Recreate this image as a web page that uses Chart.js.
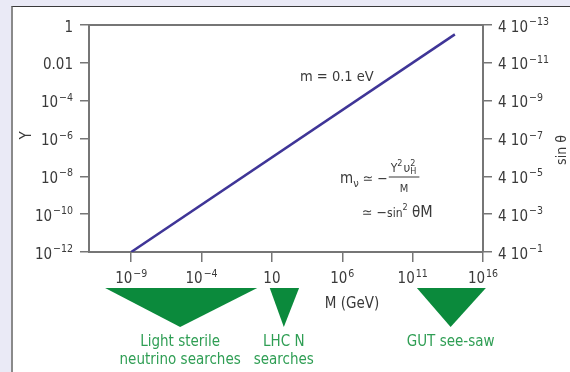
<!DOCTYPE html>
<html>
<head>
<meta charset="utf-8">
<script src="https://cdn.jsdelivr.net/npm/chart.js@4.4.0/dist/chart.umd.min.js"></script>
<style>
  html, body { margin: 0; padding: 0; background: #eaeaf6; }
  #panel { position: absolute; left: 11px; top: 6px; right: 0; bottom: 0; background: #fff;
           border-left: 2px solid #8a8a8a; border-top: 1px solid #3a3a3a; }
  #seesaw { position: absolute; left: 0; top: 0; }
</style>
</head>
<body>
<div id="panel"></div>
<canvas id="seesaw" width="570" height="372"></canvas>
<script>
// values
const lineMass = [1e-9, 1e14];          // M (GeV)
const lineYukawa = [1e-12, 0.32];       // Y along m = 0.1 eV
const massTicks = [1e-9, 1e-4, 10, 1e6, 1e11, 1e16];
const massTickLabels = ['10^−9', '10^−4', '10', '10^6', '10^11', '10^16'];
const yukawaTicks = [1, 1e-2, 1e-4, 1e-6, 1e-8, 1e-10, 1e-12];
const yukawaTickLabels = ['1', '0.01', '10^−4', '10^−6', '10^−8', '10^−10', '10^−12'];
const sinTicks = [4e-13, 4e-11, 4e-9, 4e-7, 4e-5, 4e-3, 4e-1];
const sinTickLabels = ['4 10^−13', '4 10^−11', '4 10^−9', '4 10^−7', '4 10^−5', '4 10^−3', '4 10^−1'];
const bandNames = [['Light sterile', 'neutrino searches'], ['LHC N', 'searches'], ['GUT see-saw']];
const bandLow = [1.4e-11, 7, 2e11];
const bandApex = [3e-6, 70, 5e13];
const bandHigh = [0.9, 850, 1.6e16];

const FONT = '"Liberation Sans Narrow", "DejaVu Sans Condensed", "Liberation Sans", sans-serif';
const TEXT = '#3a3a3a';
const AXIS = '#767676';
const GREEN = '#0b8a3c';
const GREEN_TEXT = '#2f9e54';

function setTicks(values) {
  return scale => { scale.ticks = values.map(v => ({ value: v })); };
}

// "10^−4" -> 10 with raised exponent
function drawPow(ctx, label, x, y, align) {
  const parts = label.split('^');
  ctx.font = '15px ' + FONT;
  const wb = ctx.measureText(parts[0]).width;
  let we = 0;
  if (parts[1]) { ctx.font = '10.5px ' + FONT; we = ctx.measureText(parts[1]).width + 1; }
  const w = wb + we;
  const x0 = align === 'right' ? x - w : align === 'center' ? x - w / 2 : x;
  ctx.textAlign = 'left';
  ctx.textBaseline = 'alphabetic';
  ctx.font = '15px ' + FONT;
  ctx.fillText(parts[0], x0, y);
  if (parts[1]) {
    ctx.font = '10.5px ' + FONT;
    ctx.fillText(parts[1], x0 + wb + 1, y - 6.5);
  }
}

// sequence of text runs: [text, size, dy, advance?]
function drawRuns(ctx, runs, x, y) {
  ctx.textAlign = 'left';
  ctx.textBaseline = 'alphabetic';
  let cx = x;
  runs.forEach(r => {
    ctx.font = r[1] + 'px ' + FONT;
    ctx.fillText(r[0], cx, y + r[2]);
    if (r[3] !== false) cx += ctx.measureText(r[0]).width;
  });
  return cx;
}

const decorPlugin = {
  id: 'decor',
  afterDraw(chart) {
    const ctx = chart.ctx;
    const a = chart.chartArea;
    const xs = chart.scales.x, ys = chart.scales.y, ys2 = chart.scales.y2;
    ctx.save();

    // top frame line
    ctx.strokeStyle = AXIS;
    ctx.lineWidth = 2;
    ctx.beginPath();
    ctx.moveTo(a.left - 1, a.top);
    ctx.lineTo(a.right + 1, a.top);
    ctx.stroke();

    ctx.fillStyle = TEXT;
    // tick labels
    yukawaTicks.forEach((v, i) => drawPow(ctx, yukawaTickLabels[i], a.left - 16, ys.getPixelForValue(v) + 6.5, 'right'));
    sinTicks.forEach((v, i) => drawPow(ctx, sinTickLabels[i], a.right + 15, ys2.getPixelForValue(v) + 6.5, 'left'));
    massTicks.forEach((v, i) => drawPow(ctx, massTickLabels[i], xs.getPixelForValue(v), a.bottom + 31, 'center'));

    // axis titles
    ctx.font = '15px ' + FONT;
    ctx.textAlign = 'center';
    ctx.textBaseline = 'middle';
    ctx.save();
    ctx.translate(27, (a.top + a.bottom) / 2 - 3);
    ctx.rotate(-Math.PI / 2);
    ctx.fillText('Y', 0, 0);
    ctx.restore();
    ctx.save();
    ctx.translate(562, 150);
    ctx.rotate(-Math.PI / 2);
    ctx.font = '14px ' + FONT;
    ctx.fillText('sin θ', 0, 0);
    ctx.restore();
    ctx.fillText('M (GeV)', 352, a.bottom + 52);

    // annotations
    ctx.textAlign = 'left';
    ctx.textBaseline = 'alphabetic';
    ctx.font = '14.5px ' + FONT;
    ctx.fillText('m = 0.1 eV', 300, 81);

    // m_nu ~ - Y^2 v_H^2 / M
    let cx = drawRuns(ctx, [['m', 15, 0], ['ν', 11, 3.5], [' ≃ −', 14, 0]], 340, 183);
    const barL = cx + 1;
    let nx = drawRuns(ctx, [['Y', 12, 0], ['2', 9, -6]], barL + 2, 172);
    nx = drawRuns(ctx, [['υ', 13, 0], ['2', 9, -6, false], ['H', 9, 2]], nx + 1, 172);
    const barR = nx + 3;
    ctx.fillRect(barL, 176.5, barR - barL, 1);
    ctx.font = '11px ' + FONT;
    ctx.textAlign = 'center';
    ctx.fillText('M', (barL + barR) / 2, 192);
    drawRuns(ctx, [['≃ −', 14, 0], ['sin', 12, 0], ['2', 9, -7], [' θ', 15, 0], ['M', 16, 0]], 362, 217);

    // mass ranges probed
    bandLow.forEach((lo, i) => {
      const x1 = xs.getPixelForValue(lo);
      const x2 = xs.getPixelForValue(bandHigh[i]);
      const xa = xs.getPixelForValue(bandApex[i]);
      ctx.fillStyle = GREEN;
      ctx.beginPath();
      ctx.moveTo(x1, a.bottom + 36);
      ctx.lineTo(x2, a.bottom + 36);
      ctx.lineTo(xa, a.bottom + 75);
      ctx.closePath();
      ctx.fill();
      ctx.fillStyle = GREEN_TEXT;
      ctx.font = '15px ' + FONT;
      ctx.textAlign = 'center';
      bandNames[i].forEach((t, k) => ctx.fillText(t, xa, a.bottom + 94 + k * 18));
    });
    ctx.restore();
  }
};

const axisGrid = { drawOnChartArea: false, drawTicks: true, tickLength: 9, color: AXIS, lineWidth: 1.5 };
const axisBorder = { display: true, color: AXIS, width: 2 };

new Chart(document.getElementById('seesaw'), {
  type: 'scatter',
  data: {
    datasets: [{
      label: 'm = 0.1 eV',
      data: lineMass.map((m, i) => ({ x: m, y: lineYukawa[i] })),
      showLine: true,
      borderColor: '#3f3597',
      borderWidth: 2.5,
      pointRadius: 0,
      yAxisID: 'y'
    }]
  },
  options: {
    responsive: false,
    animation: false,
    layout: { padding: { top: 25 } },
    plugins: { legend: { display: false }, tooltip: { enabled: false } },
    scales: {
      x: {
        type: 'logarithmic', position: 'bottom', min: 1e-12, max: 1e16,
        afterBuildTicks: setTicks(massTicks),
        afterFit: s => { s.height = 120; },
        ticks: { display: false },
        grid: Object.assign({}, axisGrid, { tickLength: 10 }),
        border: axisBorder
      },
      y: {
        type: 'logarithmic', position: 'left', min: 1e-12, max: 1,
        afterBuildTicks: setTicks(yukawaTicks),
        afterFit: s => { s.width = 89; },
        ticks: { display: false },
        grid: axisGrid,
        border: axisBorder
      },
      y2: {
        type: 'logarithmic', position: 'right', min: 4e-13, max: 4e-1, reverse: true,
        afterBuildTicks: setTicks(sinTicks),
        afterFit: s => { s.width = 87; },
        ticks: { display: false },
        grid: axisGrid,
        border: axisBorder
      }
    }
  },
  plugins: [decorPlugin]
});
</script>
</body>
</html>
